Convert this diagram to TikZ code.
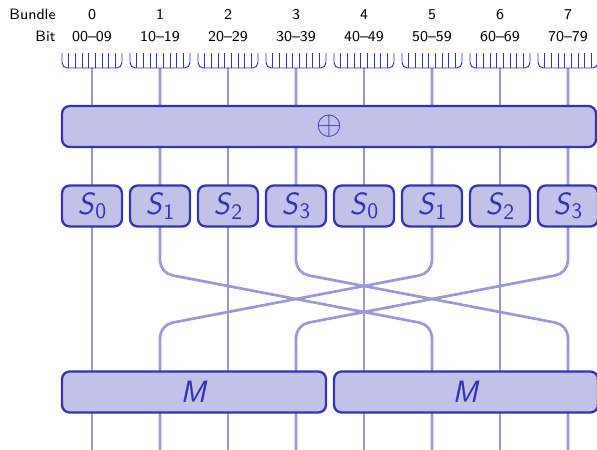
\documentclass[tikz,border=0pt]{standalone}
\usetikzlibrary{calc}
\definecolor{struct}{RGB}{51,51,179}
\pgfdeclarelayer{background}
\pgfsetlayers{background,main}
\tikzset{
  lbl/.style={font=\fontsize{7.8}{9}\selectfont\sffamily, inner sep=0pt},
  blk/.style={draw=struct, fill=struct!30, line width=1.2pt, rounded corners=4pt,
    text=struct, font=\fontsize{16}{18}\selectfont\sffamily, inner sep=0pt,
    minimum height=21.3pt},
  comb/.style={draw=struct, line width=0.5pt},
  wire/.style={draw=struct!50, line width=1.4pt},
}
\newcommand{\sboxlabel}[1]{\textit{S}\raisebox{-2.3pt}{\fontsize{11.5}{13}\selectfont #1}}
\begin{document}
\begin{tikzpicture}[x=0.52pt,y=-0.52pt]
\useasboundingbox (0,0) rectangle (597,449);
\clip (0,0) rectangle (597,449);

% header labels
\node[lbl, anchor=base east] (bundlelbl) at (56,20) {Bundle};
\node[lbl, anchor=base east] (bitlbl) at (56,41) {Bit};

\foreach \i in {0,...,7}{
  \pgfmathsetmacro\cx{92+68*\i}
  \pgfmathtruncatemacro\si{mod(\i,4)}
  \node[lbl, anchor=base] (num\i) at (\cx,20) {\i};
  \node[lbl, anchor=base] (rng\i) at (\cx,41) {\i0–\i9};
  % bit comb of the bundle
  \draw[comb, rounded corners=2.8pt] (\cx-30,53) -- (\cx-30,68) -- (\cx+30,68) -- (\cx+30,53);
  \foreach \k in {1,...,8}
    \draw[comb] (\cx-30+\k*60/9,53) -- (\cx-30+\k*60/9,68);
  \coordinate (comb\i) at (\cx,68);
  \coordinate (top\i) at (\cx,273);
  \coordinate (low\i) at (\cx,325);
  \coordinate (bot\i) at (\cx,455);
  % S-box
  \node[blk, minimum width=31.2pt] (s\i) at (\cx,206) {\sboxlabel{\si}};
}

% key addition
\node[blk, minimum width=277.7pt] (xor) at (329,126.5) {$\oplus$};

% linear layers
\node[blk, minimum width=137.3pt] (m1) at (194,392) {\textit{M}};
\node[blk, minimum width=137.3pt] (m2) at (466,392) {\textit{M}};

% wires
\begin{pgfonlayer}{background}
  \foreach \i in {0,2,4,6}
    \draw[wire] (comb\i) -- (bot\i);
  \foreach \a/\b in {1/5,3/7,5/1,7/3}
    \draw[wire, rounded corners=6.5pt] (comb\a) -- (top\a) -- (low\b) -- (bot\b);
\end{pgfonlayer}
\end{tikzpicture}
\end{document}
